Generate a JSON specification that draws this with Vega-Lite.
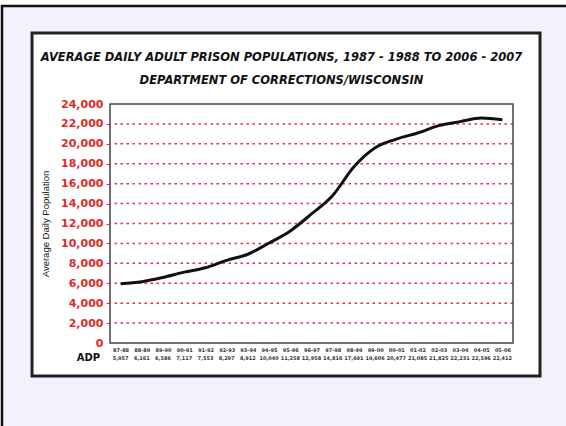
{
  "$schema": "https://vega.github.io/schema/vega-lite/v6.json",
  "width": 403,
  "height": 239,
  "autosize": {"type": "none"},
  "padding": {"left": 110, "top": 104, "right": 53, "bottom": 83},
  "background": "white",
  "config": {"view": {"stroke": null}, "font": "DejaVu Sans", "numberFormat": ","},
  "title": {
    "text": ["AVERAGE DAILY ADULT PRISON POPULATIONS, 1987 - 1988 TO 2006 - 2007", "DEPARTMENT OF CORRECTIONS/WISCONSIN"],
    "fontSize": 11.5,
    "fontStyle": "italic",
    "fontWeight": "bold",
    "font": "DejaVu Sans",
    "color": "#111",
    "lineHeight": 23,
    "anchor": "middle",
    "dx": -30,
    "dy": 100,
    "offset": 18
  },
  "datasets": {
    "adp": [
      {"period": "87-88", "adp": 5957},
      {"period": "88-89", "adp": 6161},
      {"period": "89-90", "adp": 6586},
      {"period": "90-91", "adp": 7117},
      {"period": "91-92", "adp": 7553},
      {"period": "92-93", "adp": 8297},
      {"period": "93-94", "adp": 8912},
      {"period": "94-95", "adp": 10040},
      {"period": "95-96", "adp": 11258},
      {"period": "96-97", "adp": 12958},
      {"period": "97-98", "adp": 14816},
      {"period": "98-99", "adp": 17691},
      {"period": "99-00", "adp": 19606},
      {"period": "00-01", "adp": 20477},
      {"period": "01-02", "adp": 21085},
      {"period": "02-03", "adp": 21825},
      {"period": "03-04", "adp": 22231},
      {"period": "04-05", "adp": 22596},
      {"period": "05-06", "adp": 22412}
    ],
    "grid": [
      {"v": 2000}, {"v": 4000}, {"v": 6000}, {"v": 8000}, {"v": 10000}, {"v": 12000},
      {"v": 14000}, {"v": 16000}, {"v": 18000}, {"v": 20000}, {"v": 22000}
    ],
    "frame": [{"a": 0}]
  },
  "resolve": {"scale": {"x": "independent", "y": "independent"}, "axis": {"x": "independent", "y": "independent"}},
  "layer": [
    {
      "data": {"name": "frame"},
      "mark": {"type": "rect", "fill": "#f1f1fb", "stroke": "#111", "strokeWidth": 2.5, "clip": false},
      "encoding": {
        "x": {"datum": -0.268, "type": "quantitative", "scale": {"domain": [0, 1]}, "axis": null},
        "x2": {"datum": 1.6},
        "y": {"datum": 1.41, "type": "quantitative", "scale": {"domain": [0, 1]}, "axis": null},
        "y2": {"datum": -1.2}
      }
    },
    {
      "data": {"name": "frame"},
      "mark": {"type": "rect", "fill": "white", "stroke": "#222", "strokeWidth": 3, "clip": false},
      "encoding": {
        "x": {"datum": -0.1935, "type": "quantitative", "scale": {"domain": [0, 1]}, "axis": null},
        "x2": {"datum": 1.067},
        "y": {"datum": 1.297, "type": "quantitative", "scale": {"domain": [0, 1]}, "axis": null},
        "y2": {"datum": -0.138}
      }
    },
    {
      "layer": [
        {
          "data": {"name": "grid"},
          "mark": {"type": "rule", "color": "#e5323a", "strokeWidth": 1.5, "strokeDash": [2.5, 3.5]},
          "encoding": {
            "y": {
              "field": "v", "type": "quantitative", "scale": {"domain": [0, 24000]},
              "axis": {
                "zindex": 1, "values": [0, 2000, 4000, 6000, 8000, 10000, 12000, 14000, 16000, 18000, 20000, 22000, 24000],
                "labelExpr": "format(datum.value, ',')", "labelOverlap": false, "grid": false, "domain": false,
                "labelColor": "#e02828", "labelFontWeight": "bold", "labelFontSize": 11,
                "tickColor": "#e5323a", "tickSize": 4, "labelPadding": 3,
                "tickOpacity": {"expr": "datum.value == 0 || datum.value == 24000 ? 0 : 1"},
                "title": "Average Daily Population", "titleFontSize": 9.5, "titleFontWeight": "normal",
                "titleColor": "#111", "titlePadding": 10, "titleFont": "Liberation Sans"
              }
            }
          }
        },
        {
          "data": {"name": "adp"},
          "mark": {"type": "line", "color": "#111", "strokeWidth": 3, "interpolate": "monotone"},
          "encoding": {
            "x": {
              "field": "period", "type": "ordinal", "sort": null,
              "scale": {"type": "point", "padding": 0.5},
              "axis": {
                "zindex": 1, "labelAngle": 0, "labelFontSize": 5, "labelFontWeight": "bold",
                "labelColor": "#333", "ticks": false, "domain": false, "labelPadding": 4,
                "title": "ADP", "titleFontSize": 10, "titleFontWeight": "bold", "titleColor": "#111",
                "titleX": -22, "titleY": 14, "titleAlign": "center", "titleBaseline": "middle"
              }
            },
            "y": {
              "field": "adp", "type": "quantitative",
              "scale": {"domain": [0, 24000]},
              "axis": {
                "zindex": 1, "values": [0, 2000, 4000, 6000, 8000, 10000, 12000, 14000, 16000, 18000, 20000, 22000, 24000],
                "labelExpr": "format(datum.value, ',')", "labelOverlap": false, "grid": false, "domain": false,
                "labelColor": "#e02828", "labelFontWeight": "bold", "labelFontSize": 11,
                "tickColor": "#e5323a", "tickSize": 4, "labelPadding": 3,
                "tickOpacity": {"expr": "datum.value == 0 || datum.value == 24000 ? 0 : 1"},
                "title": "Average Daily Population", "titleFontSize": 9.5, "titleFontWeight": "normal",
                "titleColor": "#111", "titlePadding": 10, "titleFont": "Liberation Sans"
              }
            }
          }
        },
        {
          "data": {"name": "adp"},
          "mark": {"type": "text", "fontSize": 5, "fontWeight": "bold", "color": "#333", "dy": 15, "baseline": "middle"},
          "encoding": {
            "x": {"field": "period", "type": "ordinal", "sort": null},
            "y": {
              "datum": 0, "type": "quantitative",
              "axis": {
                "zindex": 1, "values": [0, 2000, 4000, 6000, 8000, 10000, 12000, 14000, 16000, 18000, 20000, 22000, 24000],
                "labelExpr": "format(datum.value, ',')", "labelOverlap": false, "grid": false, "domain": false,
                "labelColor": "#e02828", "labelFontWeight": "bold", "labelFontSize": 11,
                "tickColor": "#e5323a", "tickSize": 4, "labelPadding": 3,
                "tickOpacity": {"expr": "datum.value == 0 || datum.value == 24000 ? 0 : 1"},
                "title": "Average Daily Population", "titleFontSize": 9.5, "titleFontWeight": "normal",
                "titleColor": "#111", "titlePadding": 10, "titleFont": "Liberation Sans"
              }
            },
            "text": {"field": "adp", "type": "quantitative", "format": ","}
          }
        }
      ]
    },
    {
      "data": {"name": "frame"},
      "mark": {"type": "rect", "fill": null, "stroke": "#444", "strokeWidth": 1.5, "clip": false},
      "encoding": {
        "x": {"datum": 0, "type": "quantitative", "scale": {"domain": [0, 1]}, "axis": null},
        "x2": {"datum": 1},
        "y": {"datum": 1, "type": "quantitative", "scale": {"domain": [0, 1]}, "axis": null},
        "y2": {"datum": 0}
      }
    }
  ]
}
